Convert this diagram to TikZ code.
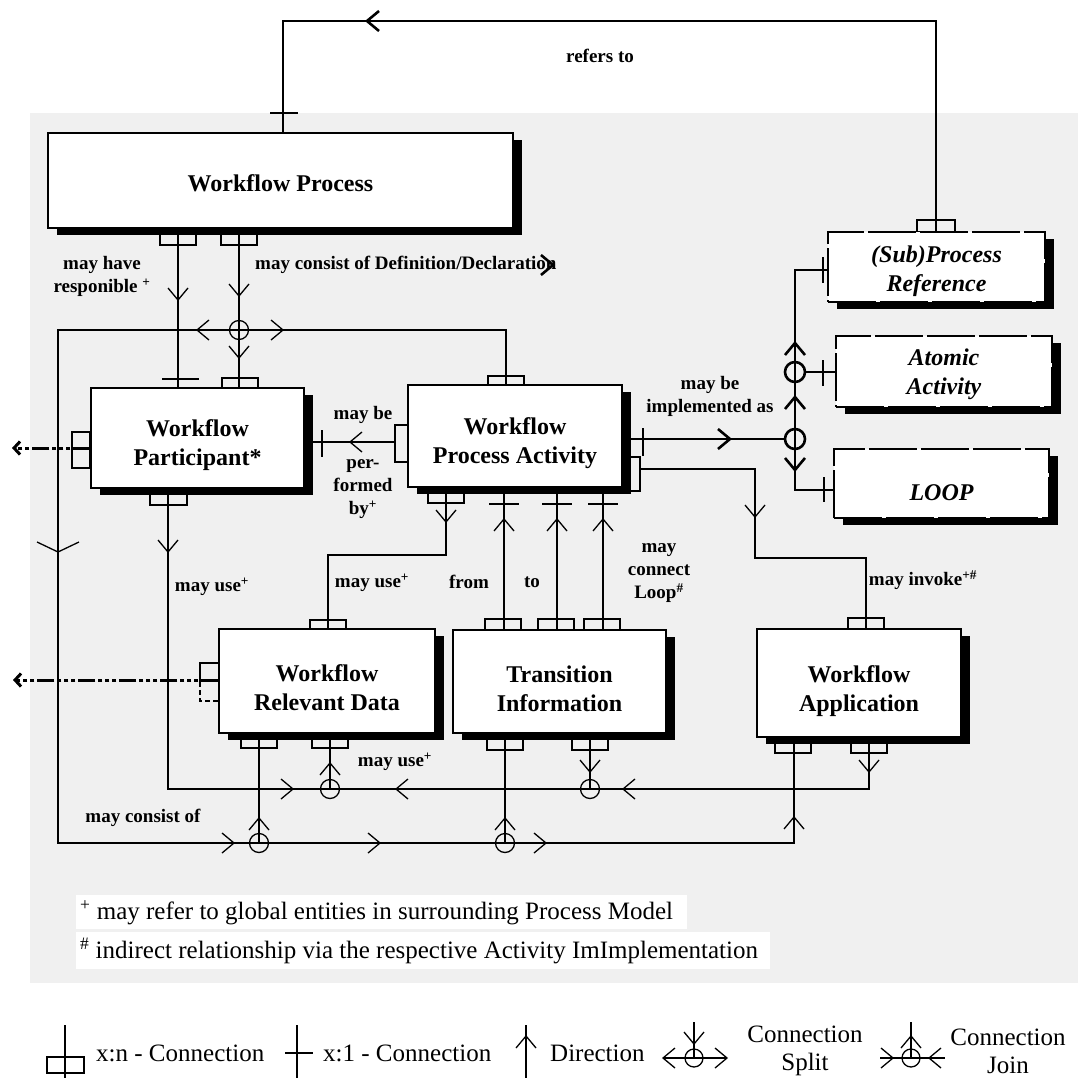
\documentclass[tikz,border=0pt]{standalone}
\usepackage{fontspec}
\setmainfont{Liberation Serif}
\usetikzlibrary{shadows,arrows.meta}
\pgfdeclarelayer{back}
\pgfdeclarelayer{wires}
\pgfsetlayers{back,wires,main}
\definecolor{panel}{RGB}{240,240,240}
% invisible strut that pushes the first text line of a box downwards
\newcommand\firstline[1]{\rule{0pt}{#1pt}}

\begin{document}
\begin{tikzpicture}[x=1pt,y=-1pt,
  wire/.style={line width=1.3pt},
  heavy/.style={line width=2.6pt},
  entity/.style={draw, line width=1.3pt, fill=white, align=center, inner sep=0pt,
    font=\bfseries\fontsize{24}{29}\selectfont,
    drop shadow={shadow xshift=9pt, shadow yshift=-7pt, fill=black, opacity=1}},
  dashedentity/.style={entity, line width=2pt, dash pattern=on 48pt off 4pt,
    font=\bfseries\itshape\fontsize{24}{29}\selectfont},
  lab/.style={inner sep=0pt, align=center, font=\bfseries\fontsize{19}{23}\selectfont},
  legendtext/.style={inner sep=0pt, align=center, font=\fontsize{25}{28}\selectfont},
  dashdot/.style={line width=3pt, dash pattern=on 17pt off 3pt on 4pt off 3pt on 4pt off 3pt on 4pt off 3pt,
    -{Straight Barb[length=6pt,width=13pt]}},
  chd/.pic={\draw (-10,-12) -- (0,0) -- (10,-12);},
  chu/.pic={\draw (-10,12) -- (0,0) -- (10,12);},
  chr/.pic={\draw (-12,-10) -- (0,0) -- (-12,10);},
  chl/.pic={\draw (12,-10) -- (0,0) -- (12,10);},
  chdwide/.pic={\draw (-21,-10) -- (0,0) -- (21,-10);},
]
\useasboundingbox (0,0) rectangle (1078,1078);

% grey panel and footnote strips
\begin{pgfonlayer}{back}
  \fill[white] (0,0) rectangle (1078,1078);
  \fill[panel] (30,113) rectangle (1078,983);
  \fill[white] (76,895) rectangle (687,929);
  \fill[white] (76,932) rectangle (770,969);
\end{pgfonlayer}

% entities
\node[entity, minimum width=465pt, minimum height=95pt] (wp) at (280.5,180.5) {\firstline{23}Workflow Process};
\node[entity, minimum width=213pt, minimum height=100pt] (part) at (197.5,438) {\firstline{31}Workflow\\Participant*};
\node[entity, minimum width=214pt, minimum height=102pt] (act) at (515,436) {\firstline{31}Workflow\\Process Activity};
\node[entity, minimum width=216pt, minimum height=104pt] (rd) at (327,681) {\firstline{31}Workflow\\Relevant Data};
\node[entity, minimum width=213pt, minimum height=103pt] (ti) at (559.5,681.5) {\firstline{31}Transition\\Information};
\node[entity, minimum width=204pt, minimum height=108pt] (app) at (859,683) {\firstline{33}Workflow\\Application};
\node[dashedentity, minimum width=217pt, minimum height=70pt] (sub) at (936.5,267) {\firstline{26}(Sub)Process\\Reference};
\node[dashedentity, minimum width=216pt, minimum height=71pt] (atom) at (944,371.5) {\firstline{22}Atomic\\Activity};
\node[dashedentity, minimum width=215pt, minimum height=69pt] (loop) at (941.5,483.5) {\firstline{34}LOOP};

% relationship labels
\node[lab] (lrefers) at (600,56) {refers to};
\node[lab] (lresp) at (102,276.5) {may have\\responible \textsuperscript{+}};
\node[lab, anchor=west] (ldef) at (255,265) {may consist of Definition/Declaration};
\node[lab] (lmaybe) at (363,415) {may be};
\node[lab] (lperf) at (363,489) {per-\\formed\\by\textsuperscript{+}};
\node[lab] (limpl) at (710,396) {may be\\implemented as};
\node[lab] (luse1) at (212,587) {may use\textsuperscript{+}};
\node[lab] (luse2) at (372,583) {may use\textsuperscript{+}};
\node[lab] (lfrom) at (469,582) {from};
\node[lab] (lto) at (532,582) {to};
\node[lab] (lloop) at (659,573) {may\\connect\\Loop\textsuperscript{\#}};
\node[lab] (linvoke) at (923,580) {may invoke\textsuperscript{+\#}};
\node[lab] (luse3) at (395,762) {may use\textsuperscript{+}};
\node[lab] (lconsist) at (143,818) {may consist of};

% footnotes
\node[legendtext, anchor=west] (fn1) at (80,913) {\textsuperscript{+} may refer to global entities in surrounding Process Model};
\node[legendtext, anchor=west] (fn2) at (80,951) {\textsuperscript{\#} indirect relationship via the respective Activity ImImplementation};

% legend texts
\node[legendtext, anchor=west] (kxn) at (96,1053) {x:n - Connection};
\node[legendtext, anchor=west] (kx1) at (323,1053) {x:1 - Connection};
\node[legendtext, anchor=west] (kdir) at (550,1053) {Direction};
\node[legendtext] (ksplit) at (805,1051) {Connection\\Split};
\node[legendtext] (kjoin) at (1008,1051) {Connection\\Join};

\begin{pgfonlayer}{wires}
  \begin{scope}[wire]
  % ---- Workflow Process refers to (Sub)Process Reference
  \draw[heavy] (sub.north -| 936,0) |- (283,21) -- (wp.north -| 283,0);
  \draw (917,220) rectangle (955,232);
  \pic[heavy] at (367,21) {chl};
  \draw[heavy] (270,113) -- (298,113);

  % ---- may have responible
  \draw (wp.south -| 178,0) -- (part.north -| 178,0);
  \draw (160,228) rectangle (196,245);
  \pic at (178,300) {chd};
  \draw (162,379) -- (199,379);

  % ---- may consist of Definition/Declaration
  \draw (wp.south -| 239,0) -- (part.north -| 239,0);
  \draw (221,228) rectangle (257,245);
  \pic at (239,296) {chd};
  \draw (239,330) circle[radius=9.5pt];
  \pic at (239,358) {chd};
  \draw (222,378) rectangle (258,388);
  \draw (act.north -| 506,0) |- (58,330) -- (58,843) -| (app.south -| 794,0);
  \draw (488,376) rectangle (524,385);
  \pic at (197,330) {chl};
  \pic at (283,330) {chr};
  \pic at (58,552) {chdwide};
  \pic[heavy] at (553,265) {chr};

  % ---- may be performed by
  \draw (part.east |- 0,442) -- (395,442);
  \draw (395,425) rectangle (act.west |- 0,462);
  \pic at (350,442) {chl};
  \draw (322,430) -- (322,457);

  % ---- participant external reference
  \draw[heavy] (72,432) rectangle (part.west |- 0,468);
  \draw[dashdot] (part.west |- 0,448) -- (12,448);

  % ---- relevant data external reference
  \draw[heavy] (rd.west |- 0,663) -- (200,663) -- (200,682);
  \draw[heavy, dash pattern=on 5pt off 3pt] (200,682) -- (200,701) -- (rd.west |- 0,701);
  \draw[dashdot] (rd.west |- 0,680) -- (13,680);

  % ---- may use (participant / application to data and transitions)
  \draw (part.south -| 168,0) |- (869,789) -- (app.south -| 869,0);
  \draw (150,488) rectangle (187,505);
  \draw (851,737) rectangle (887,753);
  \pic at (168,552) {chd};
  \pic at (293,789) {chr};
  \pic at (396,789) {chl};
  \pic at (623,789) {chl};
  \pic at (869,772) {chd};
  \draw (rd.south -| 330,0) -- (330,789);
  \draw (312,733) rectangle (348,748);
  \pic at (330,763) {chu};
  \draw (330,789) circle[radius=9.5pt];
  \draw (ti.south -| 590,0) -- (590,789);
  \draw (572,733) rectangle (608,750);
  \pic at (590,772) {chd};
  \draw (590,789) circle[radius=9.5pt];

  % ---- may consist of (bottom bus)
  \pic at (234,843) {chr};
  \pic at (380,843) {chr};
  \pic at (546,843) {chr};
  \draw (775,737) rectangle (811,753);
  \pic at (794,817) {chu};
  \draw (rd.south -| 259,0) -- (259,843);
  \draw (241,733) rectangle (277,748);
  \pic at (259,818) {chu};
  \draw (259,843) circle[radius=9.5pt];
  \draw (ti.south -| 505,0) -- (505,843);
  \draw (487,733) rectangle (523,750);
  \pic at (505,818) {chu};
  \draw (505,843) circle[radius=9.5pt];

  % ---- activity may use relevant data
  \draw (act.south -| 446,0) |- (328,555) -- (rd.north -| 328,0);
  \draw (428,487) rectangle (464,503);
  \draw (310,620) rectangle (346,629);
  \pic at (446,522) {chd};

  % ---- from / to / may connect loop
  \foreach \cx/\px in {504/503, 557/556, 603/602} {
    \draw (act.south -| \cx,0) -- (ti.north -| \cx,0);
    \draw (\cx-15,504) -- (\cx+15,504);
    \pic at (\cx,519) {chu};
    \draw (\px-18,619) rectangle (\px+18,630);
  }

  % ---- may invoke
  \draw (640,469) -| (755,558) -| (app.north -| 866,0);
  \draw (act.east |- 0,457) rectangle (640,491);
  \draw (848,618) rectangle (884,629);
  \pic at (755,517) {chd};

  % ---- may be implemented as
  \draw (act.east |- 0,439) -- (730,439);
  \draw[heavy] (730,439) -- (785,439);
  \draw[heavy] (643,428) -- (643,456);
  \pic[heavy] at (730,439) {chr};
  \draw[heavy] (sub.west |- 0,270) -| (795,490) -- (loop.west |- 0,490);
  \draw[heavy] (805,372) -- (atom.west |- 0,372);
  \draw[heavy] (823,257) -- (823,283);
  \draw[heavy] (823,360) -- (823,386);
  \draw[heavy] (824,477) -- (824,502);
  \draw[heavy] (795,372) circle[radius=10pt];
  \draw[heavy] (795,439) circle[radius=10pt];
  \pic[heavy] at (795,343) {chu};
  \pic[heavy] at (795,397) {chu};
  \pic[heavy] at (795,470) {chd};

  % ---- legend symbols
  \draw (65,1025) -- (65,1078);
  \draw (47,1057) rectangle (84,1073);
  \draw (297,1025) -- (297,1078);
  \draw (285,1053) -- (313,1053);
  \draw (526,1025) -- (526,1078);
  \pic at (526,1036) {chu};
  \draw (694,1022) -- (694,1058);
  \pic at (694,1044) {chd};
  \draw (663,1058) -- (727,1058);
  \pic at (663,1058) {chl};
  \pic at (727,1058) {chr};
  \draw (694,1058) circle[radius=9pt];
  \draw (911,1022) -- (911,1058);
  \pic at (911,1036) {chu};
  \draw (880,1058) -- (945,1058);
  \pic at (893,1058) {chr};
  \pic at (929,1058) {chl};
  \draw (911,1058) circle[radius=9pt];
  \end{scope}
\end{pgfonlayer}
\end{tikzpicture}
\end{document}
